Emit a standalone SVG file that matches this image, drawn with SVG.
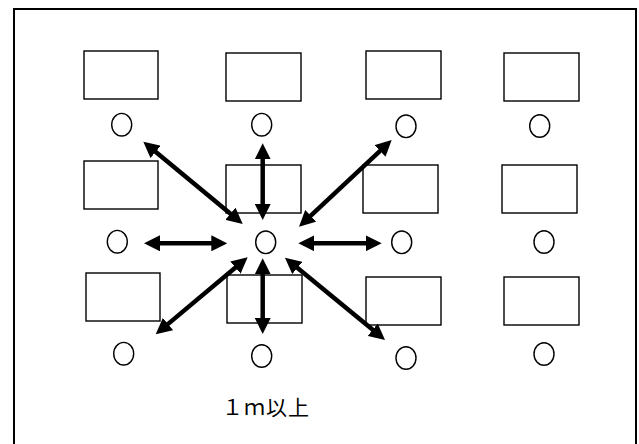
<svg xmlns="http://www.w3.org/2000/svg" width="639" height="444" viewBox="0 0 639 444">
<style>
.box{fill:#fff;stroke:#000;stroke-width:1.4}
.seat{fill:none;stroke:#000;stroke-width:1.4}
.arr{stroke:#000;stroke-width:4.5;fill:none;marker-start:url(#ah);marker-end:url(#ah)}
.lbl{font-family:"Noto Sans CJK JP","Noto Sans",sans-serif;font-size:21px;fill:#000}
</style>
<defs>
<marker id="ah" viewBox="0 0 16 16" refX="6" refY="8" markerUnits="userSpaceOnUse" markerWidth="16" markerHeight="16" orient="auto-start-reverse">
<path d="M0,0 L16,8 L0,16 z" fill="#000"/>
</marker>
</defs>
<rect width="639" height="444" fill="#fff"/>
<rect id="frame" x="14" y="9" width="622" height="450" fill="none" stroke="#000" stroke-width="2"/>
<g id="desks">
<g id="d11"><rect class="box" x="84" y="51" width="74" height="48"/></g>
<g id="d12"><rect class="box" x="226" y="53" width="75" height="48"/></g>
<g id="d13"><rect class="box" x="366" y="51" width="75" height="48"/></g>
<g id="d14"><rect class="box" x="504" y="53" width="75" height="48"/></g>
<g id="d21"><rect class="box" x="84" y="161" width="74" height="48"/></g>
<g id="d22"><rect class="box" x="226" y="165" width="75" height="48"/></g>
<g id="d23"><rect class="box" x="363" y="165" width="75" height="48"/></g>
<g id="d24"><rect class="box" x="502" y="165" width="75" height="48"/></g>
<g id="d31"><rect class="box" x="86" y="273" width="74" height="48"/></g>
<g id="d32"><rect class="box" x="227" y="275" width="75" height="48"/></g>
<g id="d33"><rect class="box" x="366" y="277" width="75" height="48"/></g>
<g id="d34"><rect class="box" x="504" y="277" width="75" height="48"/></g>
</g>
<g id="seats">
<g id="s11"><ellipse class="seat" cx="121.7" cy="124.7" rx="10" ry="11.3"/></g>
<g id="s12"><ellipse class="seat" cx="261.7" cy="124.7" rx="10" ry="11.3"/></g>
<g id="s13"><ellipse class="seat" cx="406" cy="126.3" rx="10" ry="11.3"/></g>
<g id="s14"><ellipse class="seat" cx="539.7" cy="126" rx="10" ry="11.3"/></g>
<g id="s21"><ellipse class="seat" cx="117.3" cy="241.7" rx="10" ry="11.3"/></g>
<g id="s22"><ellipse class="seat" cx="265.7" cy="242.3" rx="10" ry="11.3"/></g>
<g id="s23"><ellipse class="seat" cx="401.7" cy="242.3" rx="10" ry="11.3"/></g>
<g id="s24"><ellipse class="seat" cx="544" cy="242" rx="10" ry="11.3"/></g>
<g id="s31"><ellipse class="seat" cx="123.7" cy="353.7" rx="10" ry="11.3"/></g>
<g id="s32"><ellipse class="seat" cx="261.7" cy="356" rx="10" ry="11.3"/></g>
<g id="s33"><ellipse class="seat" cx="406" cy="358" rx="10" ry="11.3"/></g>
<g id="s34"><ellipse class="seat" cx="544" cy="354" rx="10" ry="11.3"/></g>
</g>
<g id="connectors">
<line class="arr" x1="151.0" y1="148.1" x2="235.0" y2="217.6"/>
<line class="arr" x1="262.7" y1="153.3" x2="262.7" y2="210"/>
<line class="arr" x1="384.4" y1="146.8" x2="306.3" y2="219.9"/>
<line class="arr" x1="154" y1="243.3" x2="217.3" y2="243.3"/>
<line class="arr" x1="308.3" y1="243.3" x2="371.7" y2="243.3"/>
<line class="arr" x1="240.0" y1="263.7" x2="163.4" y2="327.9"/>
<line class="arr" x1="262.7" y1="268.3" x2="262.7" y2="324"/>
<line class="arr" x1="292.7" y1="264.1" x2="377.3" y2="333.6"/>
</g>
<text class="lbl" x="222" y="414.5" letter-spacing="1">１ｍ以上</text>
</svg>
